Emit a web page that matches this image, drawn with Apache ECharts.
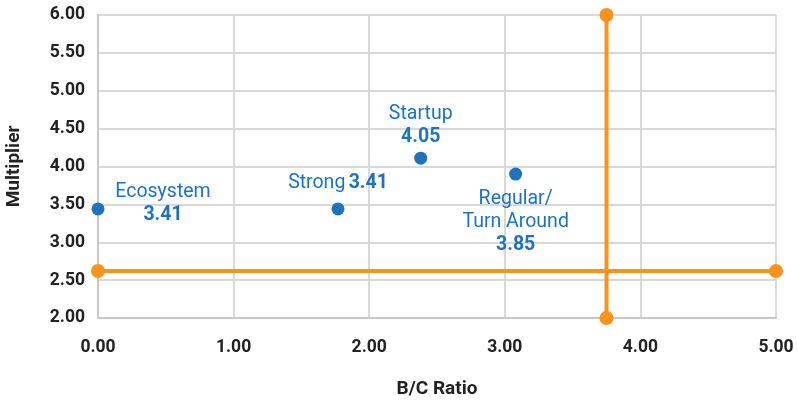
<!DOCTYPE html>
<html><head><meta charset="utf-8">
<script src="https://cdn.jsdelivr.net/npm/echarts@6/dist/echarts.min.js"></script>
<style>html,body{margin:0;padding:0;background:#fff}#c{width:797px;height:402px}</style>
</head><body><div id="c"></div>
<script>
// Data
const names = ['Ecosystem', 'Strong', 'Startup', 'Regular/\nTurn Around'];
const bcRatio = [0.0, 1.77, 2.38, 3.08];
const multiplier = [3.44, 3.44, 4.11, 3.90];
const labelValues = ['3.41', '3.41', '4.05', '3.85'];
const hLineX = [0, 5];
const hLineY = [2.62, 2.62];
const vLineX = [3.75, 3.75];
const vLineY = [2, 6];

const blue = '#1F72BE';
const orange = '#F7941D';
const font = 'Roboto';

const labelCfg = [
  {offset: [65, -5], layout: 'two'},
  {offset: [0, -26], layout: 'one'},
  {offset: [0, -33], layout: 'two'},
  {offset: [0, 48], layout: 'two'}
];

const pts = names.map((n, i) => {
  const c = labelCfg[i];
  const sep = c.layout === 'one' ? ' ' : '\n';
  return {
    value: [bcRatio[i], multiplier[i]],
    label: {
      show: true,
      position: 'inside',
      offset: c.offset,
      align: 'center',
      verticalAlign: 'middle',
      formatter: '{n|' + n.split('\n').join('}\n{n|') + '}' + sep + '{v|' + labelValues[i] + '}',
      rich: {
        n: {fontFamily: font, fontSize: 19.5, color: blue, lineHeight: 23, align: 'center'},
        v: {fontFamily: font, fontSize: 19.5, fontWeight: 'bold', color: blue, lineHeight: 23, align: 'center'}
      }
    }
  };
});

const chart = echarts.init(document.getElementById('c'));
chart.setOption({
  animation: false,
  grid: {left: 98, right: 21, top: 15, bottom: 84, outerBoundsMode: 'none', containLabel: false},
  xAxis: {
    type: 'value', min: 0, max: 5, interval: 1,
    name: 'B/C Ratio', nameLocation: 'middle', nameGap: 62,
    nameTextStyle: {fontFamily: font, fontSize: 19, fontWeight: 'bold', color: '#222'},
    axisLine: {show: true, lineStyle: {color: '#c8c8c8', width: 2}},
    axisTick: {show: false},
    axisLabel: {fontFamily: font, fontSize: 17.5, fontWeight: 'bold', color: '#222', margin: 21,
      formatter: v => v.toFixed(2)},
    splitLine: {show: true, lineStyle: {color: '#d9d9d9', width: 2}}
  },
  yAxis: {
    type: 'value', min: 2, max: 6, interval: 0.5,
    name: 'Multiplier', nameLocation: 'middle', nameGap: 74, nameRotate: 90,
    nameTextStyle: {fontFamily: font, fontSize: 19, fontWeight: 'bold', color: '#222'},
    axisLine: {show: true, lineStyle: {color: '#c8c8c8', width: 2}},
    axisTick: {show: false},
    axisLabel: {fontFamily: font, fontSize: 17.5, fontWeight: 'bold', color: '#222', margin: 13,
      formatter: v => v.toFixed(2)},
    splitLine: {show: true, lineStyle: {color: '#d9d9d9', width: 2}}
  },
  series: [
    {
      type: 'line', data: hLineX.map((x, i) => [x, hLineY[i]]),
      symbol: 'circle', symbolSize: 14, showAllSymbol: true,
      lineStyle: {color: orange, width: 4}, itemStyle: {color: orange, opacity: 1}, z: 3
    },
    {
      type: 'line', data: vLineX.map((x, i) => [x, vLineY[i]]),
      symbol: 'circle', symbolSize: 14, showAllSymbol: true,
      lineStyle: {color: orange, width: 4}, itemStyle: {color: orange, opacity: 1}, z: 3
    },
    {
      type: 'scatter', data: pts, symbolSize: 13,
      itemStyle: {color: blue, opacity: 1}, z: 4
    }
  ]
});
</script></body></html>
